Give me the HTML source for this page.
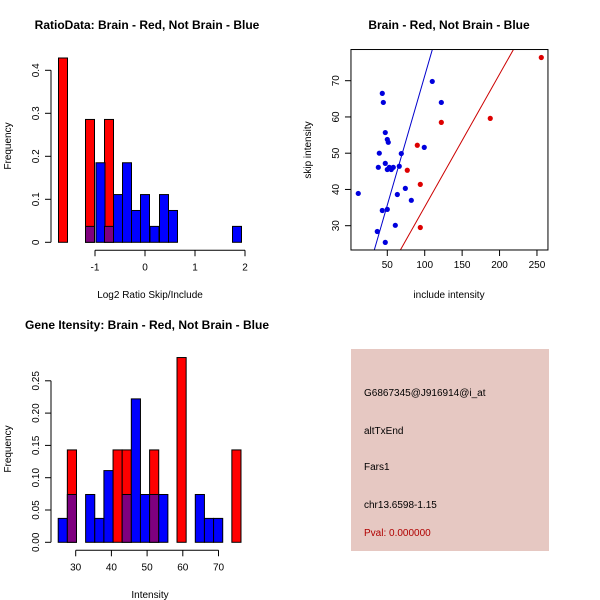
<!DOCTYPE html>
<html><head><meta charset="utf-8"><style>
body{margin:0;background:#fff}
svg{display:block;font-family:"Liberation Sans",sans-serif}
</style></head><body>
<svg id="s" width="600" height="600" xmlns="http://www.w3.org/2000/svg">
<rect width="600" height="600" fill="#fff"/>
<text x="147" y="29" font-size="12" font-weight="bold" text-anchor="middle">RatioData: Brain - Red, Not Brain - Blue</text>
<text x="449" y="29" font-size="12" font-weight="bold" text-anchor="middle">Brain - Red, Not Brain - Blue</text>
<text x="147" y="329" font-size="12" font-weight="bold" text-anchor="middle">Gene Itensity: Brain - Red, Not Brain - Blue</text>
<text x="150" y="298" font-size="10" text-anchor="middle">Log2 Ratio Skip/Include</text>
<text x="449" y="298" font-size="10" text-anchor="middle">include intensity</text>
<text x="150" y="598" font-size="10" text-anchor="middle">Intensity</text>
<text transform="translate(11,146) rotate(-90)" font-size="10" text-anchor="middle">Frequency</text>
<text transform="translate(311,150) rotate(-90)" font-size="10" text-anchor="middle">skip intensity</text>
<text transform="translate(11,449) rotate(-90)" font-size="10" text-anchor="middle">Frequency</text>
<g>
<rect x="351" y="349" width="198" height="202" fill="#e6c8c2"/>
<text x="364" y="396" font-size="10">G6867345@J916914@i_at</text>
<text x="364" y="434" font-size="10">altTxEnd</text>
<text x="364" y="470" font-size="10">Fars1</text>
<text x="364" y="508" font-size="10">chr13.6598-1.15</text>
<text x="364" y="536" font-size="10" fill="#b00000">Pval: 0.000000</text>
</g>
</svg>
<script>
// Ratio histogram data
const ratioBinWidth = 0.18;
const ratioRedLeft = [-1.73, -1.19, -0.81];
const ratioRedFreq = [0.4286, 0.2857, 0.2857];
const ratioBlueLeft = [-1.19, -0.98, -0.81, -0.63, -0.45, -0.27, -0.09, 0.10, 0.29, 0.47, 1.75];
const ratioBlueFreq = [0.037, 0.185, 0.037, 0.111, 0.185, 0.074, 0.111, 0.037, 0.111, 0.074, 0.037];
const ratioXTicks = [-1, 0, 1, 2];
const ratioYTicks = [0, 0.1, 0.2, 0.3, 0.4];
// Gene histogram data
const geneBinWidth = 2.56;
const geneRedLeft = [27.66, 40.46, 43.02, 50.70, 58.38, 73.74];
const geneRedFreq = [0.143, 0.143, 0.143, 0.143, 0.286, 0.143];
const geneBlueLeft = [25.10, 27.66, 32.78, 35.34, 37.90, 43.02, 45.58, 48.14, 50.70, 53.26, 63.50, 66.06, 68.62];
const geneBlueFreq = [0.037, 0.074, 0.074, 0.037, 0.111, 0.074, 0.222, 0.074, 0.074, 0.074, 0.074, 0.037, 0.037];
const geneXTicks = [30, 40, 50, 60, 70];
const geneYTicks = ["0.00","0.05","0.10","0.15","0.20","0.25"];
// Scatter data
const blueX = [11.2,43.3,44.7,47.3,50,51.3,39.3,38,47.3,50,52.7,55.3,58,66,68.7,63.4,74.1,82.1,60.7,50,43.3,36.6,47.3,99.4,110.1,122.2];
const blueY = [38.9,66.5,64.0,55.7,53.8,53.0,50.0,46.1,47.2,45.5,46.1,45.5,46.1,46.4,49.9,38.6,40.3,37.0,30.1,34.5,34.2,28.4,25.4,51.6,69.8,64.0];
const redX = [76.7,90.1,94.1,94.1,122.2,187.6,255.8];
const redY = [45.3,52.2,41.4,29.5,58.5,59.6,76.4];
const blueFit = [0.04, 0.713];
const redFit = [-1.4, 0.366];
const scXTicks = [50,100,150,200,250];
const scYTicks = [30,40,50,60,70];

const svg = document.getElementById('s');
const NS = 'http://www.w3.org/2000/svg';
function mk(tag, attrs, parent){const e=document.createElementNS(NS,tag);for(const k in attrs)e.setAttribute(k,attrs[k]);(parent||svg).appendChild(e);return e;}

function hist(g, xs, ys, redL, redF, blueL, blueF, bw, xT, yT, name){
  const bar=(l,f,fill,nm)=>{const r=mk('rect',{x:xs(l),y:ys(f),width:xs(l+bw)-xs(l),height:ys(0)-ys(f),fill:fill,stroke:'#000','stroke-width':1},g);
    
    };
  redL.forEach((l,i)=>bar(l,redF[i],'#ff0000',name+'-red-bar'));
  blueL.forEach((l,i)=>{
    let j=redL.findIndex(r=>Math.abs(r-l)<bw/2);
    if(j<0) bar(l,blueF[i],'#0000ff',name+'-blue-bar');
    else bar(l,Math.min(blueF[i],redF[j]),'#7f007f',name+'-overlap-bar');
  });
  const ya=ys(0)+8;
  mk('line',{x1:xs(xT[0]),x2:xs(xT[xT.length-1]),y1:ya,y2:ya,stroke:'#000'},g);
  xT.forEach(t=>{mk('line',{x1:xs(t),x2:xs(t),y1:ya,y2:ya+6,stroke:'#000'},g);
    const tx=mk('text',{x:xs(t),y:ya+20,'font-size':10,'text-anchor':'middle'},g);tx.textContent=t;});
  const xa=51;
  mk('line',{x1:xa,x2:xa,y1:ys(+yT[0]),y2:ys(+yT[yT.length-1]),stroke:'#000'},g);
  yT.forEach(t=>{const y=ys(+t);mk('line',{x1:xa,x2:xa-6,y1:y,y2:y,stroke:'#000'},g);
    const tx=mk('text',{transform:`translate(${xa-12},${y}) rotate(-90)`,'font-size':10,'text-anchor':'middle'},g);tx.textContent=t;});
}
const g1=mk('g',{});


hist(g1,v=>145+50*v,v=>242.3-430*v,ratioRedLeft,ratioRedFreq,ratioBlueLeft,ratioBlueFreq,ratioBinWidth,ratioXTicks,ratioYTicks,'ratio');
const g3=mk('g',{});


hist(g3,v=>75.7+3.57*(v-30),v=>542.3-646*v,geneRedLeft,geneRedFreq,geneBlueLeft,geneBlueFreq,geneBinWidth,geneXTicks,geneYTicks,'gene');

const g2=mk('g',{});


const sx=v=>387.3+0.7483*(v-50), sy=v=>80.7-3.625*(v-70);
const x0=1.45,x1=264.7,y0=23.3,y1=78.6;
const clip=mk('clipPath',{id:'c'},g2);mk('rect',{x:sx(x0),y:sy(y1),width:sx(x1)-sx(x0),height:sy(y0)-sy(y1)},clip);
function fit(f,col,nm){const l=mk('line',{x1:sx(x0),y1:sy(f[0]+f[1]*x0),x2:sx(x1),y2:sy(f[0]+f[1]*x1),stroke:col,'clip-path':'url(#c)'},g2);
  
  }
fit(blueFit,'#0000cc','blue-fit-line');fit(redFit,'#cc0000','red-fit-line');
blueX.forEach((x,i)=>{const c=mk('circle',{cx:sx(x),cy:sy(blueY[i]),r:2.6,fill:'#0000dd'},g2);
  
  });
redX.forEach((x,i)=>{const c=mk('circle',{cx:sx(x),cy:sy(redY[i]),r:2.6,fill:'#dd0000'},g2);
  
  });
mk('rect',{x:sx(x0),y:sy(y1),width:sx(x1)-sx(x0),height:sy(y0)-sy(y1),fill:'none',stroke:'#000'},g2);
const by=sy(y0);
scXTicks.forEach(t=>{mk('line',{x1:sx(t),x2:sx(t),y1:by,y2:by+6,stroke:'#000'},g2);
  const tx=mk('text',{x:sx(t),y:by+18,'font-size':10,'text-anchor':'middle'},g2);tx.textContent=t;});
const lx=sx(x0);
scYTicks.forEach(t=>{const y=sy(t);mk('line',{x1:lx,x2:lx-6,y1:y,y2:y,stroke:'#000'},g2);
  const tx=mk('text',{transform:`translate(${lx-12},${y}) rotate(-90)`,'font-size':10,'text-anchor':'middle'},g2);tx.textContent=t;});
</script>
</body></html>
